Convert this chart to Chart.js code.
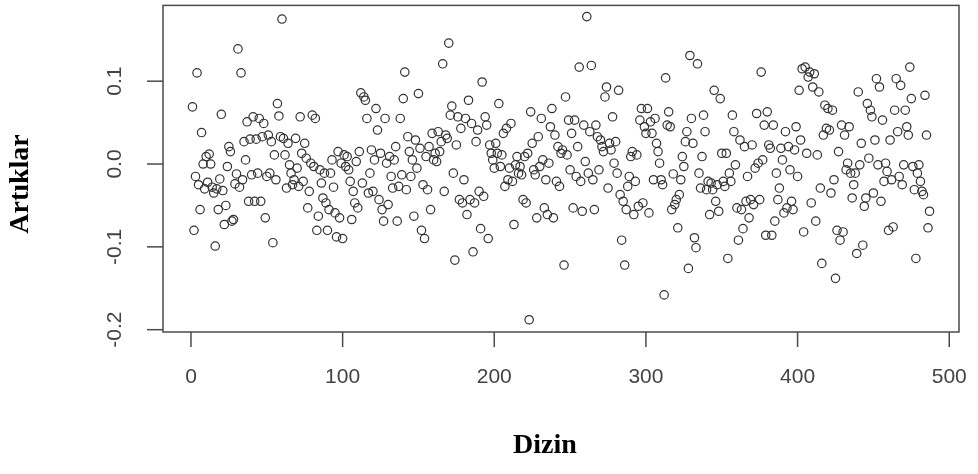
<!DOCTYPE html>
<html>
<head>
<meta charset="utf-8">
<script src="https://cdn.jsdelivr.net/npm/chart.js@4.4.0/dist/chart.umd.min.js"></script>
<style>
  html, body { margin: 0; padding: 0; background: #fff; }
  #wrap { width: 978px; height: 474px; }
</style>
</head>
<body>
<div id="wrap"><canvas id="chart" width="978" height="474"></canvas></div>
<script>
// residuals in index order (1..487)
const artiklar = [
  0.069, -0.080, -0.015, 0.110, -0.025, -0.055, 0.038, 0.000, -0.030, 0.009,
  -0.022, 0.012, 0.000, -0.028, -0.035, -0.099, -0.030, -0.055, -0.018, 0.060,
  -0.032, -0.073, -0.050, -0.003, 0.021, 0.015, -0.069, -0.067, -0.024, -0.012,
  0.139, -0.028, 0.110, -0.019, 0.027, 0.005, 0.051, -0.045, 0.030, -0.013,
  0.057, -0.045, 0.030, -0.011, 0.055, -0.045, 0.033, 0.049, -0.065, -0.015,
  0.035, -0.011, 0.027, -0.095, 0.011, -0.019, 0.073, 0.058, 0.033, 0.175,
  0.031, 0.011, -0.029, 0.025, -0.001, -0.011, -0.025, -0.019, 0.031, -0.005,
  -0.027, 0.057, 0.013, -0.021, 0.025, 0.007, -0.053, -0.033, 0.001, 0.059,
  -0.003, 0.055, -0.080, -0.063, -0.007, -0.023, -0.041, -0.011, -0.047, -0.080,
  -0.055, -0.011, 0.005, -0.028, -0.059, -0.088, 0.015, -0.065, 0.001, -0.090,
  0.011, -0.003, 0.009, -0.007, -0.021, -0.067, -0.033, -0.047, 0.003, -0.053,
  0.015, 0.086, -0.023, 0.081, 0.077, 0.055, -0.035, -0.011, 0.017, -0.033,
  0.005, 0.067, 0.041, -0.043, 0.013, -0.055, -0.069, 0.055, 0.001, -0.049,
  0.009, -0.015, -0.029, 0.005, 0.021, -0.069, -0.027, 0.055, -0.013, 0.079,
  0.111, -0.031, 0.033, 0.015, -0.015, 0.005, -0.063, 0.029, -0.005, 0.085,
  0.019, -0.080, -0.025, -0.090, 0.009, -0.031, 0.021, -0.055, 0.037, 0.005,
  0.013, 0.003, 0.039, 0.015, 0.027, 0.121, -0.033, 0.035, 0.031, 0.146,
  0.059, 0.070, -0.011, -0.116, 0.023, 0.057, -0.043, 0.043, -0.047, -0.019,
  0.055, -0.061, 0.077, -0.043, 0.049, -0.106, -0.047, 0.027, 0.041, -0.033,
  -0.078, 0.099, -0.039, 0.057, 0.047, -0.090, 0.023, 0.013, 0.005, -0.005,
  0.025, 0.013, 0.073, -0.003, 0.011, 0.037, -0.027, 0.043, -0.019, -0.005,
  0.049, -0.021, -0.073, -0.001, 0.009, -0.011, -0.003, -0.013, -0.043, 0.009,
  -0.047, 0.013, -0.188, 0.063, 0.025, -0.007, -0.013, -0.065, 0.033, -0.003,
  0.055, 0.005, -0.053, -0.019, -0.061, 0.001, 0.045, 0.067, -0.065, 0.035,
  -0.021, 0.021, -0.027, 0.013, 0.017, -0.122, 0.081, 0.011, 0.053, -0.007,
  0.037, -0.053, 0.053, -0.015, 0.021, 0.117, -0.021, -0.057, 0.047, 0.003,
  0.178, -0.011, 0.039, 0.119, -0.019, -0.055, 0.047, 0.033, -0.007, 0.029,
  0.021, 0.015, 0.081, 0.093, -0.029, 0.025, 0.017, 0.057, 0.001, 0.027,
  -0.011, 0.089, -0.037, -0.092, -0.045, -0.122, -0.055, -0.027, -0.015, 0.009,
  0.015, -0.061, -0.021, 0.011, -0.051, 0.053, 0.067, -0.047, 0.045, 0.037,
  0.067, -0.059, 0.051, 0.037, -0.019, 0.055, 0.025, 0.015, 0.001, -0.019,
  -0.025, -0.158, 0.104, 0.047, 0.063, 0.045, -0.055, -0.012, -0.049, -0.043,
  -0.077, -0.037, -0.019, 0.009, -0.003, 0.027, 0.039, -0.126, 0.131, 0.055,
  0.025, -0.089, -0.101, 0.121, -0.011, -0.029, 0.009, 0.059, 0.039, -0.031,
  -0.021, -0.061, -0.023, -0.031, 0.089, -0.045, -0.025, -0.057, 0.079, 0.013,
  -0.021, -0.027, 0.013, -0.114, -0.011, -0.021, 0.059, 0.039, -0.001, -0.053,
  -0.092, 0.029, -0.055, -0.078, 0.021, -0.045, -0.015, -0.065, -0.043, 0.023,
  -0.049, -0.005, 0.061, 0.001, -0.043, 0.111, 0.005, 0.047, -0.086, 0.063,
  0.023, 0.019, -0.086, 0.047, -0.069, -0.011, -0.043, -0.029, 0.019, 0.005,
  -0.059, 0.039, -0.053, 0.021, -0.007, -0.045, -0.055, 0.017, 0.045, -0.015,
  0.089, 0.029, 0.115, -0.082, 0.117, 0.013, 0.105, 0.111, -0.047, 0.093,
  0.109, -0.069, 0.011, 0.087, -0.029, -0.120, 0.035, 0.071, 0.043, 0.067,
  0.041, -0.035, 0.065, -0.019, -0.138, -0.080, 0.015, -0.092, 0.047, -0.082,
  0.035, -0.007, 0.001, 0.045, -0.011, -0.041, -0.025, -0.011, -0.108, 0.087,
  -0.001, 0.025, -0.098, -0.051, -0.041, 0.073, 0.007, 0.065, 0.057, -0.035,
  0.029, 0.103, -0.001, 0.093, -0.045, 0.053, -0.021, 0.001, -0.009, -0.080,
  0.029, -0.019, -0.076, 0.065, 0.103, 0.039, -0.015, 0.095, -0.025, -0.001,
  0.065, 0.045, 0.035, 0.117, 0.079, -0.003, -0.031, -0.114, -0.011, -0.001,
  -0.021, -0.033, -0.037, 0.083, 0.035, -0.077, -0.057
];
const dizin = artiklar.map((v, i) => i + 1);

const xTicks = [0, 100, 200, 300, 400, 500];
const yTicks = [-0.2, -0.1, 0.0, 0.1];
const yTickLabels = ['-0.2', '-0.1', '0.0', '0.1'];

const xTitle = 'Dizin';
const yTitle = 'Artıklar';

// R style frame, ticks and labels
const rAxes = {
  id: 'rAxes',
  afterDraw(chart) {
    const ctx = chart.ctx;
    const a = chart.chartArea;
    const xs = chart.scales.x, ys = chart.scales.y;
    ctx.save();
    ctx.strokeStyle = '#4a4a4a';
    ctx.lineWidth = 1.5;
    ctx.strokeRect(a.left, a.top, a.right - a.left, a.bottom - a.top);

    ctx.fillStyle = '#444';
    ctx.font = '21px "Liberation Sans", Arial, sans-serif';

    // x axis
    ctx.textAlign = 'center';
    ctx.textBaseline = 'middle';
    xTicks.forEach(t => {
      const px = xs.getPixelForValue(t);
      ctx.beginPath();
      ctx.moveTo(px, a.bottom);
      ctx.lineTo(px, a.bottom + 15);
      ctx.stroke();
      ctx.fillText(String(t), px, 377);
    });

    // y axis, labels turned like R does
    yTicks.forEach((t, i) => {
      const py = ys.getPixelForValue(t);
      ctx.beginPath();
      ctx.moveTo(a.left, py);
      ctx.lineTo(a.left - 16, py);
      ctx.stroke();
      ctx.save();
      ctx.translate(115, py);
      ctx.rotate(-Math.PI / 2);
      ctx.fillText(yTickLabels[i], 0, 0);
      ctx.restore();
    });

    // titles
    ctx.fillStyle = '#000';
    ctx.font = 'bold 28px "Liberation Serif", "Times New Roman", serif';
    ctx.fillText(xTitle, 545, 446);
    ctx.save();
    ctx.translate(21, 184);
    ctx.rotate(-Math.PI / 2);
    ctx.fillText(yTitle, 0, 0);
    ctx.restore();
    ctx.restore();
  }
};

const points = dizin.map((x, i) => ({ x: x, y: artiklar[i] }));

new Chart(document.getElementById('chart'), {
  type: 'scatter',
  data: {
    datasets: [{
      data: points,
      pointStyle: 'circle',
      pointRadius: 4.2,
      pointBorderWidth: 1.2,
      pointBorderColor: '#333',
      pointBackgroundColor: 'rgba(0,0,0,0)'
    }]
  },
  options: {
    responsive: false,
    animation: false,
    devicePixelRatio: 1,
    layout: { padding: { left: 163, right: 19, top: 4, bottom: 142 } },
    plugins: { legend: { display: false }, tooltip: { enabled: false } },
    scales: {
      x: { type: 'linear', display: false, min: -18.44, max: 506.44 },
      y: { type: 'linear', display: false, min: -0.2028, max: 0.1915 }
    }
  },
  plugins: [rAxes]
});
</script>
</body>
</html>
